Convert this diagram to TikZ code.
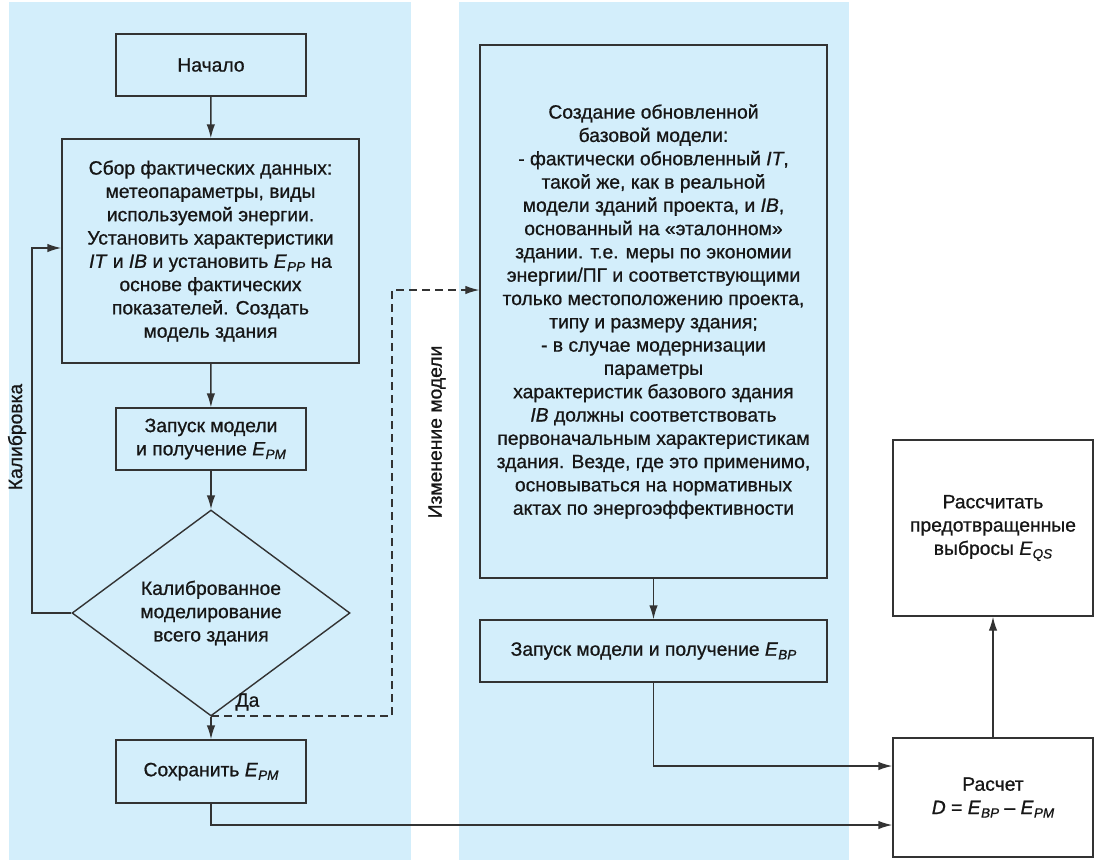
\documentclass[tikz,border=0pt]{standalone}
\usepackage{fontspec}
\setmainfont{Liberation Sans}[FakeBold=0.8]
\usetikzlibrary{arrows.meta,shapes.geometric}
\definecolor{panel}{HTML}{D3EEFB}
\definecolor{ln}{HTML}{333333}
\definecolor{tx}{HTML}{161616}
\newcommand\Esub[1]{\textit{E}\kern0.3pt\raisebox{-0.35ex}{\fontsize{13.5}{13.5}\selectfont\itshape #1}}
\begin{document}
\begin{tikzpicture}[x=1pt,y=-1pt,
  txt/.style={text=tx, font=\fontsize{19.3}{23.3}\selectfont},
  box/.style={txt, draw=ln, line width=1.4pt, align=center, inner sep=0pt},
  arr/.style={draw=ln, line width=1.4pt, -{Latex[length=14pt,width=8.5pt]}},
  dline/.style={draw=ln, line width=1.3pt, dash pattern=on 8pt off 5pt, -{Latex[length=14pt,width=8.5pt]}},
  ]
\useasboundingbox (0,0) rectangle (1102,863);
\fill[white] (0,0) rectangle (1102,863);
\fill[panel] (9,2) rectangle (411,860);
\fill[panel] (459,2) rectangle (849,860);

\node[box, minimum width=190pt, minimum height=62pt] (start) at (211,65) {Начало};
\node[box, minimum width=297pt, minimum height=224pt] (sbor) at (210.5,251) {Сбор фактических данных:\\
метеопараметры, виды\\
используемой энергии.\\
Установить характеристики\\
\textit{IT} и \textit{IB} и установить \Esub{PP} на\\
основе фактических\\
показателей. Создать\\
модель здания};
\node[box, minimum width=190pt, minimum height=62pt] (run) at (211,439) {Запуск модели\\ и получение \Esub{PM}};
\node[box, shape=diamond, minimum width=278pt, minimum height=178pt] (dia) at (211,613) {Калиброванное\\моделирование\\всего здания};
\node[box, minimum width=190pt, minimum height=63pt] (save) at (211,771.5) {Сохранить \Esub{PM}};

\node[box, minimum width=347pt, minimum height=533pt] (big) at (653.5,311.5) {Создание обновленной\\
базовой модели:\\
- фактически обновленный \textit{IT},\\
такой же, как в реальной\\
модели зданий проекта, и \textit{IB},\\
основанный на «эталонном»\\
здании. т.е. меры по экономии\\
энергии/ПГ и соответствующими\\
только местоположению проекта,\\
типу и размеру здания;\\
- в случае модернизации\\
параметры\\
характеристик базового здания\\
\textit{IB} должны соответствовать\\
первоначальным характеристикам\\
здания. Везде, где это применимо,\\
основываться на нормативных\\
актах по энергоэффективности};
\node[box, minimum width=347pt, minimum height=62pt] (ebp) at (653.5,651) {Запуск модели и получение \Esub{BP}};

\node[box, fill=white, minimum width=200pt, minimum height=176pt] (emis) at (993,528) {Рассчитать\\предотвращенные\\выбросы \Esub{QS}};
\node[box, fill=white, minimum width=200pt, minimum height=119pt] (calc) at (993,797.5) {Расчет\\\textit{D} = \Esub{BP} – \Esub{PM}};

\node[txt, rotate=90] (lcal) at (17,437) {Калибровка};
\node[txt, rotate=90] (lmod) at (437,432) {Изменение модели};
\node[txt] (yes) at (247.5,702) {Да};

\draw[arr] (start) -- (sbor);
\draw[arr] (sbor) -- (run);
\draw[arr] (run) -- (dia);
\draw[arr] (dia) -- (save);
\coordinate (fb) at (32,248);
\draw[arr] (dia.west) -| (fb) -- (fb -| sbor.west);
\coordinate (j) at (211,716);
\coordinate (dd) at (392,290);
\draw[dline] (j) -| (dd) -- (dd -| big.west);
\draw[arr] (big) -- (ebp);
\coordinate (b2) at (653.5,766);
\draw[arr] (ebp.south) -- (b2) -- (b2 -| calc.west);
\coordinate (b1) at (211,825);
\draw[arr] (save.south) -- (b1) -- (b1 -| calc.west);
\draw[arr] (calc) -- (emis);
\end{tikzpicture}
\end{document}
